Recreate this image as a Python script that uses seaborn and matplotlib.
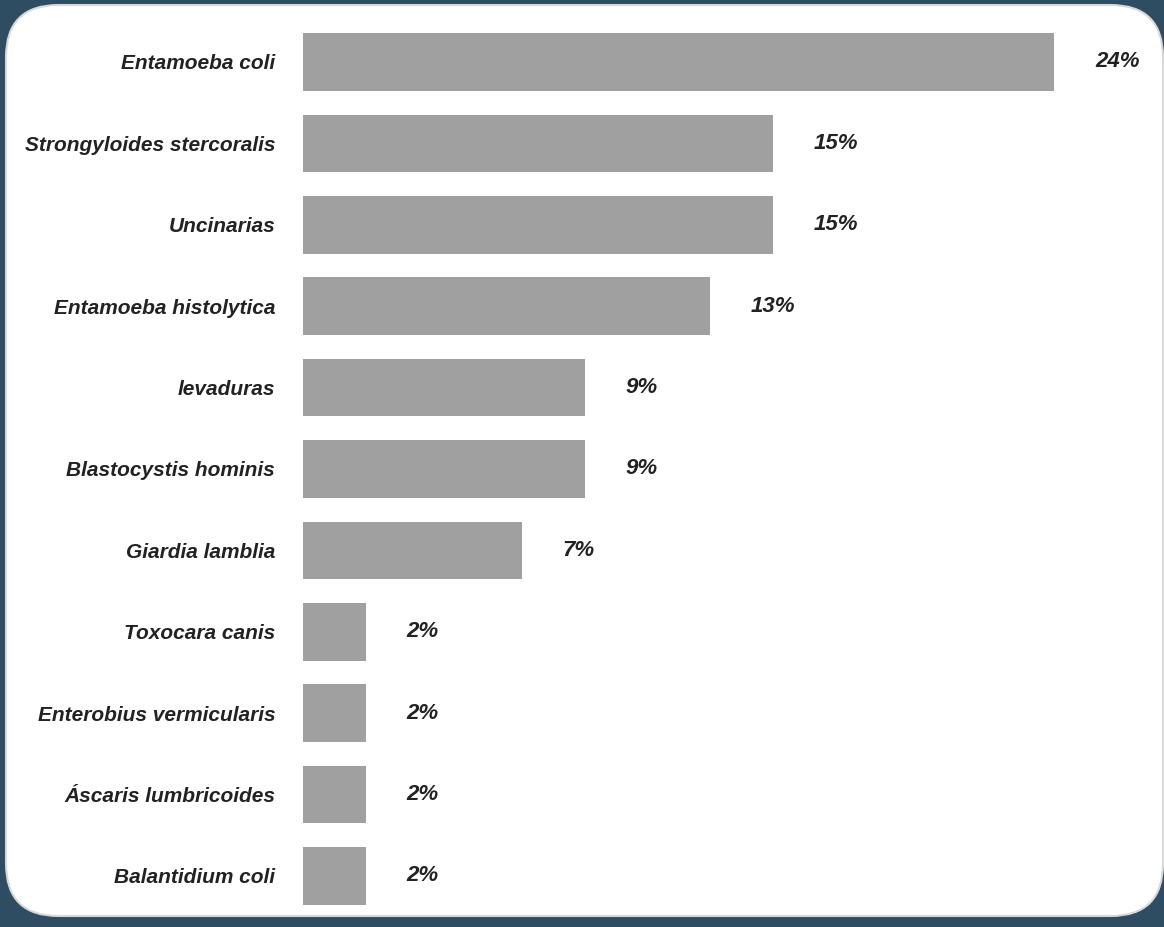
import matplotlib
matplotlib.use("Agg")
import matplotlib.pyplot as plt
from matplotlib.patches import FancyBboxPatch
import seaborn as sns
import pandas as pd

categories = ["Entamoeba coli", "Strongyloides stercoralis", "Uncinarias",
              "Entamoeba histolytica", "levaduras", "Blastocystis hominis",
              "Giardia lamblia", "Toxocara canis", "Enterobius vermicularis",
              "Áscaris lumbricoides", "Balantidium coli"]
values = [24, 15, 15, 13, 9, 9, 7, 2, 2, 2, 2]
labels = ["24%", "15%", "15%", "13%", "9%", "9%", "7%", "2%", "2%", "2%", "2%"]

df = pd.DataFrame({"parasito": categories, "pct": values})

sns.set_theme(style="white")
plt.rcParams["font.family"] = ["Liberation Sans", "DejaVu Sans"]

W, H = 1164, 927
fig = plt.figure(figsize=(W / 100, H / 100), dpi=100)
fig.patch.set_facecolor("#2e4c62")

panel = FancyBboxPatch((6 / W, 1 - 916 / H), (1163 - 6) / W, (916 - 5) / H,
                       boxstyle="round,pad=0,rounding_size=0.045",
                       transform=fig.transFigure, facecolor="white",
                       edgecolor="#d8d8d8", linewidth=1.5, zorder=-5,
                       mutation_aspect=W / H)
fig.patches.append(panel)

left, right = 303 / W, 1150 / W
top, bottom = 1 - 21.3 / H, 1 - 916.7 / H
ax = fig.add_axes([left, bottom, right - left, top - bottom])
ax.set_zorder(5)
ax.set_facecolor("none")

sns.barplot(data=df, x="pct", y="parasito", orient="h", color="#a0a0a0",
            saturation=1, width=0.71, ax=ax, edgecolor="none")

scale = 31.3
ax.set_xlim(0, (1150 - 303) / scale)
ax.set_ylim(len(categories) - 0.5, -0.5)

for i, (v, lab) in enumerate(zip(values, labels)):
    ax.text(v + 1.3, i, lab, ha="left", va="center", fontsize=16,
            fontweight="bold", fontstyle="italic", color="#222222")

ax.set_xlabel("")
ax.set_ylabel("")
ax.set_xticks([])
ax.tick_params(axis="y", length=0, pad=20)
for t in ax.get_yticklabels():
    t.set_fontsize(15)
    t.set_fontweight("bold")
    t.set_fontstyle("italic")
    t.set_color("#222222")
for s in ax.spines.values():
    s.set_visible(False)

fig.savefig("out.png", dpi=100, facecolor=fig.get_facecolor())
